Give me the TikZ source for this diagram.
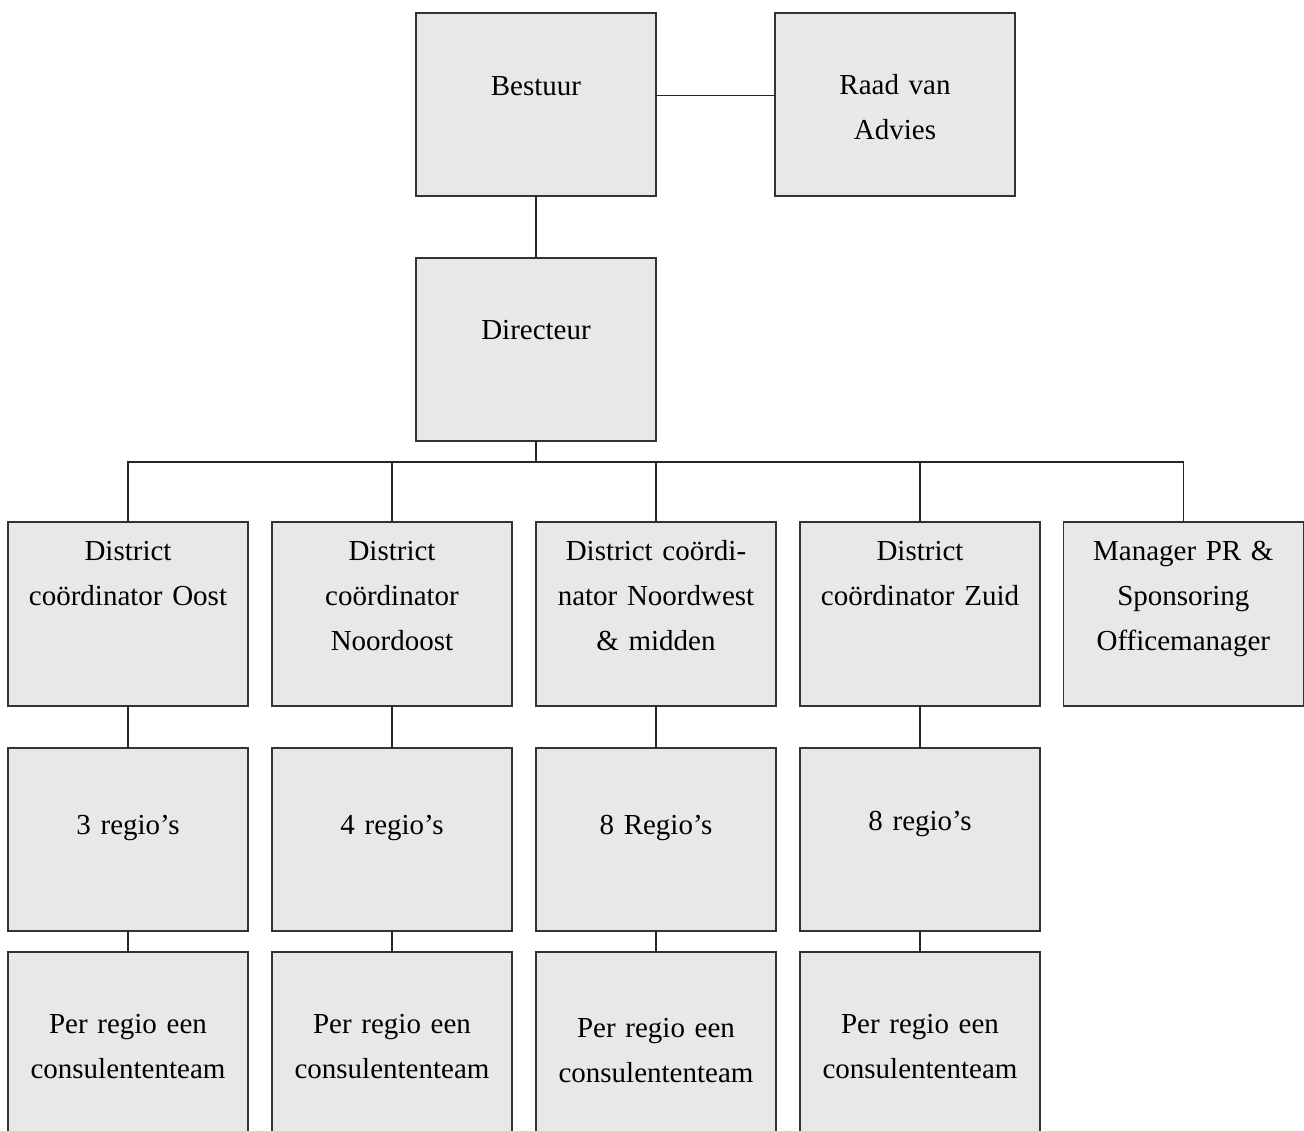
\documentclass[tikz,border=0pt]{standalone}
\usepackage{fontspec}
\setmainfont{Liberation Serif}
\usetikzlibrary{positioning}

\begin{document}
\begin{tikzpicture}[x=0.75pt, y=-0.75pt,
			orgbox/.style={draw=black!80, line width=1.1pt, fill=gray!18, inner sep=0pt, outer sep=0pt, minimum width=180pt, text width=176pt, align=center, font=\fontsize{21.75pt}{33.75pt}\selectfont},
			link/.style={draw=black!85, line width=0.9pt}
			]
			\useasboundingbox (0,0) rectangle (1304,1131);
			\clip (0,0) rectangle (1304,1131);
			
			\node[orgbox, anchor=north west, text height=62.25pt, text depth=75pt] (bestuur) at (416,13) {Bestuur};
			\node[orgbox, right=89.25pt of bestuur, text height=60.75pt, text depth=76.5pt] (raad) {Raad van\\Advies};
			\node[orgbox, below=46.5pt of bestuur, text height=60.75pt, text depth=76.5pt] (directeur) {Directeur};
			
			\node[orgbox, anchor=north west, text height=28.5pt, text depth=109.5pt] (oost) at (8,522) {District\\coördinator Oost};
			\node[orgbox, right=18pt of oost, text height=28.5pt, text depth=109.5pt] (noordoost) {District\\coördinator\\Noordoost};
			\node[orgbox, right=18pt of noordoost, text height=28.5pt, text depth=109.5pt] (noordwest) {District coördi-\\nator Noordwest\\\& midden};
			\node[orgbox, right=18pt of noordwest, text height=28.5pt, text depth=109.5pt] (zuid) {District\\coördinator Zuid};
			\node[orgbox, right=17.5pt of zuid, text height=28.5pt, text depth=109.5pt] (pr) {Manager PR \&\\Sponsoring\\Officemanager};
			
			\node[orgbox, below=31.5pt of oost, text height=64.5pt, text depth=72.75pt] (regoost) {3 regio’s};
			\node[orgbox, below=31.5pt of noordoost, text height=64.5pt, text depth=72.75pt] (regnoordoost) {4 regio’s};
			\node[orgbox, below=31.5pt of noordwest, text height=64.5pt, text depth=72.75pt] (regnoordwest) {8 Regio’s};
			\node[orgbox, below=31.5pt of zuid, text height=61.5pt, text depth=75.75pt] (regzuid) {8 regio’s};
			
			\node[orgbox, below=15.75pt of regoost, text height=60.75pt, text depth=76.5pt] (teamoost) {Per regio een\\consulententeam};
			\node[orgbox, below=15.75pt of regnoordoost, text height=60.75pt, text depth=76.5pt] (teamnoordoost) {Per regio een\\consulententeam};
			\node[orgbox, below=15.75pt of regnoordwest, text height=63.75pt, text depth=73.5pt] (teamnoordwest) {Per regio een\\consulententeam};
			\node[orgbox, below=15.75pt of regzuid, text height=60.75pt, text depth=76.5pt] (teamzuid) {Per regio een\\consulententeam};
			
			\path (directeur.south) ++(0,21) coordinate (bus);
			
			\draw[link] ([yshift=6.75pt]bestuur.east) -- ([yshift=6.75pt]raad.west);
			\draw[link] (bestuur.south) -- (directeur.north);
			\draw[link] (directeur.south) -- (bus);
			\draw[link] (oost.north) |- (bus) -| (pr.north);
			\foreach \d in {noordoost, noordwest, zuid}
				\draw[link] (\d.north) -- (\d.north |- bus);
			\draw[link] (oost) -- (regoost);
			\draw[link] (noordoost) -- (regnoordoost);
			\draw[link] (noordwest) -- (regnoordwest);
			\draw[link] (zuid) -- (regzuid);
			\draw[link] (regoost) -- (teamoost);
			\draw[link] (regnoordoost) -- (teamnoordoost);
			\draw[link] (regnoordwest) -- (teamnoordwest);
			\draw[link] (regzuid) -- (teamzuid);
	\end{tikzpicture}
\end{document}
